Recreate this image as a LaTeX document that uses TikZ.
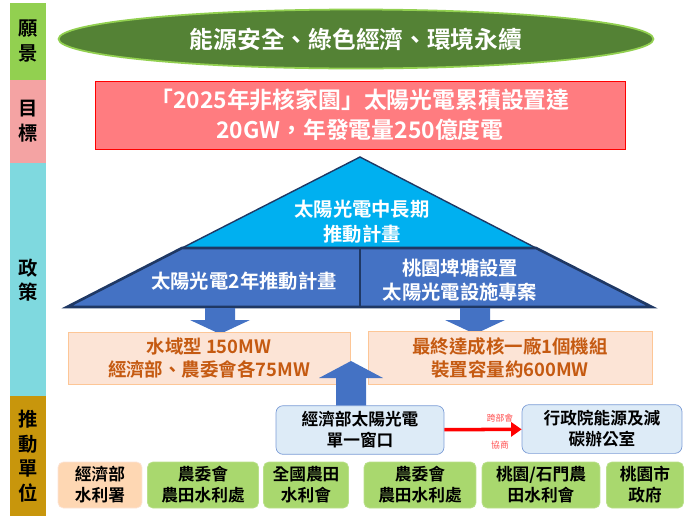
\documentclass[tikz,border=0pt]{standalone}
\usepackage{fontspec}
\setmainfont{Noto Sans CJK TC}[BoldFont={Noto Sans CJK TC Bold}]
\usetikzlibrary{shapes.geometric, arrows.meta}
\definecolor{visiongreen}{HTML}{548235}
\definecolor{barlime}{HTML}{92D050}
\definecolor{barpink}{HTML}{F4A3A3}
\definecolor{barcyan}{HTML}{7FD9DF}
\definecolor{bargold}{HTML}{C8960C}
\definecolor{goalred}{HTML}{FF7C80}
\definecolor{skyblue}{HTML}{00B0F0}
\definecolor{planblue}{HTML}{4472C4}
\definecolor{navy}{HTML}{1F3864}
\definecolor{peach}{HTML}{FCE4D6}
\definecolor{rust}{HTML}{C55A11}
\definecolor{paleblue}{HTML}{DDEBF7}
\definecolor{unitgreen}{HTML}{A9D86E}
\tikzset{
	bartext/.style = {font=\bfseries\fontsize{11}{14}\selectfont, align=center},
	resultbox/.style = {fill=peach, draw=peach!70!orange, text=rust, align=center,
		font=\bfseries\fontsize{10.5}{13}\selectfont, minimum height=0.88cm},
	windowbox/.style = {fill=paleblue, draw=planblue!70, rounded corners=4pt, align=center,
		font=\bfseries\fontsize{9.5}{12}\selectfont, minimum height=0.9cm},
	unitbox/.style = {fill=unitgreen, draw=unitgreen!80!white, rounded corners=3pt, align=center,
		font=\bfseries\fontsize{9.5}{12}\selectfont, minimum height=0.92cm, inner sep=1pt},
	blockarrow/.style = {fill=planblue, draw=none}
}
\begin{document}
\begin{tikzpicture}[x=0.02cm, y=-0.02cm]
	\useasboundingbox (0, 0) rectangle (693, 528);
	
	% left bar
	\fill[barlime] (10, 3) rectangle (46, 80);
	\fill[barpink] (10, 80) rectangle (46, 163);
	\fill[barcyan] (10, 163) rectangle (46, 396);
	\fill[bargold] (10, 396) rectangle (46, 516);
	\node[bartext] at (28, 41) {願\\景};
	\node[bartext] at (28, 121) {目\\標};
	\node[bartext] at (28, 280) {政\\策};
	\node[bartext] at (28, 456) {推\\動\\單\\位};
	
	% vision and goal
	\node[ellipse, fill=visiongreen, draw=barlime, line width=1pt, minimum width=11.9cm,
		minimum height=1.18cm, text=white, font=\bfseries\fontsize{13.5}{15}\selectfont]
		(vision) at (356, 39) {能源安全、綠色經濟、環境永續};
	\node[fill=goalred, draw=red, minimum width=10.6cm, minimum height=1.36cm, text=white,
		align=center, font=\bfseries\fontsize{13}{17}\selectfont]
		(goal) at (360, 115) {「2025年非核家園」太陽光電累積設置達\\20GW，年發電量250億度電};
	
	% policy pyramid
	\draw[fill=skyblue, draw=navy, line width=0.8pt] (360, 157) -- (536, 248) -- (182, 248) -- cycle;
	\draw[fill=planblue, draw=navy, line width=1.5pt] (182, 248) -- (536, 248) -- (652, 307) -- (67, 307) -- cycle;
	\draw[navy, line width=1.5pt] (360, 248) -- (360, 307);
	\node[text=white, align=center, font=\bfseries\fontsize{11}{14}\selectfont]
		(longterm) at (362, 222) {太陽光電中長期\\推動計畫};
	\node[text=white, font=\bfseries\fontsize{11}{14}\selectfont]
		(twoyear) at (244, 281) {太陽光電2年推動計畫};
	\node[text=white, align=center, font=\bfseries\fontsize{11}{14}\selectfont]
		(pond) at (460, 280) {桃園埤塘設置\\太陽光電設施專案};
	
	% down arrows
	\foreach \ax in {220, 475}
		\fill[blockarrow] (\ax-15, 308) -- (\ax+15, 308) -- (\ax+15, 320) -- (\ax+30, 320)
			-- (\ax, 334) -- (\ax-30, 320) -- (\ax-15, 320) -- cycle;
	
	% results
	\node[resultbox, minimum width=5.64cm] (water) at (209, 358) {水域型 150MW\\經濟部、農委會各75MW};
	\node[resultbox, minimum width=5.68cm] (reactor) at (510, 358) {最終達成核一廠1個機組\\裝置容量約600MW};
	
	% up arrow
	\fill[blockarrow] (336, 410) -- (366, 410) -- (366, 378) -- (383, 378) -- (351, 361)
		-- (319, 378) -- (336, 378) -- cycle;
	
	% window and cabinet office
	\node[windowbox, minimum width=3.36cm] (window) at (360, 430) {經濟部太陽光電\\單一窗口};
	\node[windowbox, minimum width=3.2cm] (cabinet) at (602, 429) {行政院能源及減\\碳辦公室};
	\draw[red, line width=2pt, -{Triangle[length=6pt, width=8pt]}] (window) -- (cabinet);
	\node[text=red!70!white, font=\fontsize{5}{6}\selectfont, above=1pt] at (500, 430) {跨部會};
	\node[text=red!70!white, font=\fontsize{5}{6}\selectfont, below=3pt] at (500, 430) {協商};
	
	% units
	\node[unitbox, fill=peach!60!orange!60, draw=peach, minimum width=1.68cm] (wra) at (100, 485) {經濟部\\水利署};
	\node[unitbox, minimum width=2.22cm] (coa1) at (203, 485) {農委會\\農田水利處};
	\node[unitbox, minimum width=1.7cm] (irr) at (306, 485) {全國農田\\水利會};
	\node[unitbox, minimum width=2.24cm] (coa2) at (420, 485) {農委會\\農田水利處};
	\node[unitbox, minimum width=2.36cm] (tyir) at (541, 485) {桃園/石門農\\田水利會};
	\node[unitbox, minimum width=1.54cm] (tycity) at (645, 485) {桃園市\\政府};
\end{tikzpicture}
\end{document}
